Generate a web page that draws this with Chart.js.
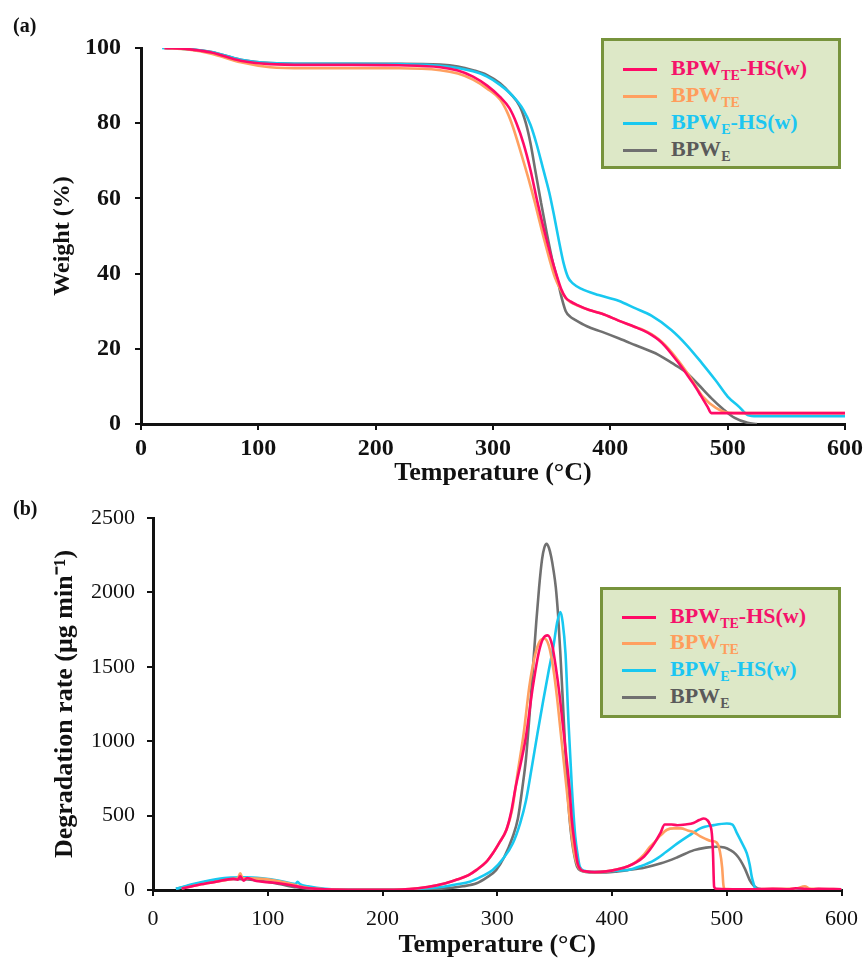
<!DOCTYPE html>
<html>
<head>
<meta charset="utf-8">
<script src="https://cdn.jsdelivr.net/npm/chart.js@4.4.1/dist/chart.umd.min.js"></script>
<style>
  html, body { margin: 0; padding: 0; background: #fff; }
  body { width: 868px; height: 963px; position: relative; overflow: hidden;
         font-family: "Liberation Serif", "Times New Roman", serif; }
  canvas { position: absolute; left: 0; }
  #tga { top: 0; }
  #dtg { top: 490px; }
  .tag { position: absolute; font-weight: bold; font-size: 20px; color: #111; line-height: 1; }
  .legend { position: absolute; background: #dde8c7; border: 3px solid #77933c; box-sizing: border-box; }
  .swatch { position: absolute; width: 34px; height: 3px; }
  .lab { position: absolute; font-weight: bold; font-size: 22px; line-height: 26px; white-space: nowrap; }
  .lab sub { font-size: 14px; vertical-align: -5px; line-height: 0; }
</style>
</head>
<body>
<canvas id="tga" width="868" height="490"></canvas>
<canvas id="dtg" width="868" height="473"></canvas>
<div class="tag" style="left:13px;top:15px;">(a)</div>
<div class="tag" style="left:13px;top:498px;">(b)</div>
<div class="legend" id="legA" style="left:601px;top:38px;width:240px;height:131px;"></div>
<div class="legend" id="legB" style="left:600px;top:587px;width:241px;height:131px;"></div>

<script>
// ---- Series names and colours ----
const seriesNames = [
  { base: 'BPW', sub: 'TE', tail: '-HS(w)' },
  { base: 'BPW', sub: 'TE', tail: '' },
  { base: 'BPW', sub: 'E',  tail: '-HS(w)' },
  { base: 'BPW', sub: 'E',  tail: '' }
];
const lineColors = ['#ff0a66', '#ffa060', '#18c8f0', '#707070'];
const textColors = ['#f5136a', '#ff9d5c', '#1cc6f2', '#5a5a5a'];

// ---- (a) Weight (%) vs temperature ----
const tgaTeHsT = [20, 40, 60, 85, 110, 140, 180, 220, 255, 270, 283, 295, 306, 314, 320, 326, 332, 338, 344, 350, 354, 358, 362, 366, 372, 382, 393, 407, 421, 428, 435, 441, 447, 453, 459, 465, 471, 477, 483, 486, 490, 530, 600];
const tgaTeHsW = [100, 99.7, 98.8, 96.6, 95.7, 95.5, 95.5, 95.4, 94.9, 94.0, 92.4, 90.0, 87.0, 84.0, 80.0, 74.6, 67.5, 58.8, 51.0, 44.0, 39.8, 36.0, 33.6, 32.6, 31.6, 30.3, 29.3, 27.5, 25.8, 24.9, 23.7, 22.4, 20.6, 18.3, 15.9, 13.3, 10.6, 7.6, 4.5, 2.9, 2.9, 2.9, 2.9];

const tgaTeT = [20, 40, 60, 85, 110, 140, 180, 220, 255, 270, 283, 295, 306, 312, 317, 323, 330, 336, 342, 348, 353, 358, 362, 366, 372, 382, 393, 407, 421, 428, 435, 441, 447, 453, 459, 465, 471, 479, 490, 501, 510, 600];
const tgaTeW = [100, 99.6, 98.5, 96.2, 94.9, 94.6, 94.6, 94.6, 94.1, 93.2, 91.6, 89.2, 86.3, 83.0, 79.0, 73.0, 65.5, 58.5, 51.0, 44.0, 38.8, 35.5, 33.5, 32.4, 31.5, 30.3, 29.3, 27.5, 25.8, 25.0, 23.9, 22.6, 20.9, 18.8, 16.4, 13.8, 11.0, 7.2, 4.3, 3.0, 2.9, 2.9];

const tgaEHsT = [18, 40, 60, 85, 110, 140, 180, 220, 255, 270, 283, 295, 306, 316, 326, 332, 337, 343, 348, 352, 356, 360, 364, 368, 375, 390, 407, 421, 435, 452, 465, 478, 490, 500, 510, 517, 525, 600];
const tgaEHsW = [100, 99.7, 98.9, 96.9, 96.0, 95.8, 95.8, 95.7, 95.3, 94.7, 93.8, 92.4, 90.2, 87.5, 83.5, 79.5, 74.6, 67.5, 61.5, 55.5, 49.0, 43.0, 39.0, 37.4, 36.0, 34.3, 32.8, 30.8, 28.8, 25.0, 21.0, 16.2, 11.5, 7.3, 4.5, 2.4, 2.1, 2.1];

const tgaET = [20, 40, 60, 85, 110, 140, 180, 220, 255, 270, 283, 295, 306, 315, 323, 328, 332, 336, 341, 346, 351, 355, 359, 362, 366, 370, 380, 393, 407, 421, 441, 452, 464, 475, 486, 496, 506, 517, 525];
const tgaEW = [100, 99.7, 98.9, 96.9, 96.0, 95.8, 95.8, 95.8, 95.6, 95.1, 94.1, 92.8, 90.6, 87.8, 84.4, 80.0, 74.6, 67.5, 58.8, 50.5, 43.0, 38.3, 33.0, 30.0, 28.5, 27.7, 26.0, 24.5, 22.8, 21.0, 18.4, 16.3, 13.9, 10.5, 6.9, 4.0, 1.6, 0.3, 0];

// ---- (b) Degradation rate (µg min-1) vs temperature ----
const dtgTeHsT = [25, 40, 55, 70, 74, 76, 79, 82, 90, 104, 118, 132, 150, 180, 210, 239, 255, 265, 275, 282, 290, 296, 302, 308, 312, 316, 321, 325, 331, 336, 340, 344, 348, 351, 354, 357, 360, 363, 365, 368, 370, 373, 377, 385, 395, 405, 414, 421, 428, 433, 437, 442, 446, 452, 457, 464, 471, 476, 480, 483, 485, 487, 488, 489, 491, 500, 520, 540, 555, 560, 575, 580, 600];
const dtgTeHsV = [10, 35, 55, 75, 70, 92, 62, 80, 60, 50, 35, 15, 5, 2, 2, 20, 45, 70, 100, 135, 185, 245, 320, 405, 520, 690, 870, 1030, 1365, 1590, 1690, 1711, 1640, 1500, 1330, 1120, 910, 680, 470, 280, 180, 135, 125, 120, 125, 140, 160, 185, 225, 270, 315, 380, 440, 440, 435, 440, 450, 470, 481, 470, 445, 380, 250, 22, 8, 5, 5, 8, 5, 12, 5, 8, 5];

const dtgTeT = [25, 40, 55, 70, 74, 76, 78, 85, 95, 105, 118, 132, 150, 180, 210, 239, 255, 265, 275, 282, 290, 296, 302, 308, 313, 318, 323, 328, 333, 337, 341, 345, 349, 352, 355, 358, 361, 364, 367, 370, 373, 377, 385, 395, 405, 414, 421, 428, 433, 437, 442, 448, 454, 460, 466, 472, 477, 481, 486, 491, 494, 496, 497, 498, 505, 520, 540, 560, 568, 572, 576, 600];
const dtgTeV = [10, 35, 55, 75, 80, 112, 80, 78, 75, 65, 45, 18, 5, 2, 2, 20, 45, 70, 100, 135, 185, 245, 320, 405, 540, 800, 1050, 1370, 1580, 1670, 1690, 1640, 1480, 1300, 1080, 860, 640, 420, 250, 165, 135, 125, 120, 125, 140, 160, 190, 240, 290, 320, 365, 405, 414, 414, 400, 385, 360, 345, 330, 320, 260, 150, 40, 8, 5, 5, 8, 10, 25, 10, 8, 5];

const dtgEHsT = [20, 35, 50, 65, 80, 95, 110, 120, 124, 126, 128, 135, 150, 180, 210, 240, 253, 265, 276, 286, 296, 305, 313.5, 320, 325, 330, 335, 340, 345, 349, 352, 355, 357, 359.5, 362, 365, 368, 370, 372, 376, 385, 395, 405, 414, 425, 437, 447, 457, 467, 477, 488.8, 500, 505, 509, 513, 517.5, 520, 521.8, 523.5, 525, 530, 560, 600];
const dtgEHsV = [8, 40, 65, 82, 85, 78, 62, 45, 40, 55, 40, 25, 8, 2, 2, 12, 22, 38, 56, 90, 134, 210, 313, 450, 600, 820, 1050, 1270, 1480, 1640, 1790, 1868, 1800, 1588, 1141, 693, 358, 240, 156, 130, 122, 125, 130, 134, 160, 201, 255, 313, 365, 414, 436, 447, 440, 380, 320, 246, 170, 89, 40, 10, 5, 5, 5];

const dtgET = [20, 35, 50, 65, 80, 95, 110, 125, 140, 160, 190, 220, 250, 270, 282, 291, 299, 306, 313.5, 318, 322, 325, 327.8, 330, 332, 334, 336.5, 339, 341, 343, 345, 347, 349, 351, 353, 355, 358, 361, 363, 365, 367.5, 369.6, 373, 377, 385, 395, 405, 414, 428, 442.8, 457, 471.5, 482, 491.6, 498, 503, 508, 511.8, 516, 520, 524, 527, 530];
const dtgEV = [8, 35, 60, 75, 72, 60, 40, 18, 5, 2, 2, 2, 8, 25, 45, 85, 134, 220, 358, 480, 693, 880, 1141, 1370, 1588, 1800, 2036, 2220, 2300, 2327, 2300, 2240, 2150, 2036, 1850, 1588, 1141, 693, 480, 336, 220, 156, 130, 122, 118, 118, 125, 134, 150, 179, 220, 268, 285, 291, 285, 268, 240, 201, 140, 67, 25, 10, 5];

// ---- Axis ticks ----
const tempTicks = [0, 100, 200, 300, 400, 500, 600];
const weightTicks = [0, 20, 40, 60, 80, 100];
const rateTicks = [0, 500, 1000, 1500, 2000, 2500];

Chart.defaults.font.family = "'Liberation Serif', 'Times New Roman', serif";
Chart.defaults.color = '#111';

function pairs(xs, ys) { return xs.map((x, i) => ({ x: x, y: ys[i] })); }

function buildChart(canvasId, seriesXY, cfg) {
  const datasets = seriesXY.map((s, i) => ({
    label: seriesNames[i].base + seriesNames[i].sub + seriesNames[i].tail,
    data: pairs(s[0], s[1]),
    borderColor: lineColors[i],
    backgroundColor: lineColors[i],
    borderWidth: 2.6,
    showLine: true,
    pointRadius: 0,
    cubicInterpolationMode: 'monotone',
    fill: false
  }));
  const axisGrid = { display: true, drawOnChartArea: false, drawTicks: true, tickLength: 6, color: '#111', lineWidth: 2 };
  const axisBorder = { display: true, color: '#111', width: 3 };
  return new Chart(document.getElementById(canvasId), {
    type: 'scatter',
    data: { datasets: datasets },
    options: {
      responsive: false,
      animation: false,
      events: [],
      layout: { padding: cfg.padding },
      plugins: { legend: { display: false }, tooltip: { enabled: false } },
      scales: {
        x: {
          type: 'linear', min: 0, max: 600,
          afterBuildTicks: (s) => { s.ticks = tempTicks.map(v => ({ value: v })); },
          afterFit: (s) => { s.height = cfg.xHeight; },
          grid: axisGrid, border: axisBorder,
          ticks: { font: cfg.tickFont, padding: cfg.xTickPad, color: '#111', maxRotation: 0, callback: v => String(v) },
          title: { display: true, text: 'Temperature (°C)', color: '#111',
                   font: { size: 26, weight: 'bold' }, padding: { top: 0, bottom: cfg.xTitlePad } }
        },
        y: {
          type: 'linear', min: cfg.yMin, max: cfg.yMax,
          afterBuildTicks: (s) => { s.ticks = cfg.yTicks.map(v => ({ value: v })); },
          afterFit: (s) => { s.width = cfg.yWidth; },
          grid: axisGrid, border: axisBorder,
          ticks: { font: cfg.tickFont, padding: cfg.yTickPad, color: '#111', callback: v => String(v) },
          title: { display: true, text: cfg.yTitle, color: '#111',
                   font: { size: cfg.yTitleSize, weight: 'bold' }, padding: { top: cfg.yTitlePad, bottom: 0 } }
        }
      }
    }
  });
}

buildChart('tga', [[tgaTeHsT, tgaTeHsW], [tgaTeT, tgaTeW], [tgaEHsT, tgaEHsW], [tgaET, tgaEW]], {
  padding: { top: 48, right: 23, bottom: 0, left: 0 },
  xHeight: 66, yWidth: 141,
  yMin: 0, yMax: 100, yTicks: weightTicks,
  tickFont: { size: 24, weight: 'bold' },
  xTickPad: 4, yTickPad: 14, xTitlePad: 1,
  yTitle: 'Weight (%)', yTitleSize: 24, yTitlePad: 48
});

buildChart('dtg', [[dtgTeHsT, dtgTeHsV], [dtgTeT, dtgTeV], [dtgEHsT, dtgEHsV], [dtgET, dtgEV]], {
  padding: { top: 28, right: 19, bottom: 0, left: 0 },
  xHeight: 73, yWidth: 153,
  yMin: 0, yMax: 2500, yTicks: rateTicks,
  tickFont: { size: 22, weight: 'normal' },
  xTickPad: 10, yTickPad: 12, xTitlePad: 2,
  yTitle: 'Degradation rate (μg min⁻¹)', yTitleSize: 26, yTitlePad: 50
});

// ---- Legends with subscripted sample names ----
function buildLegend(id, rowCenters) {
  const box = document.getElementById(id);
  seriesNames.forEach((n, i) => {
    const sw = document.createElement('div');
    sw.className = 'swatch';
    sw.style.left = '19px';
    sw.style.top = (rowCenters[i] - 1.5) + 'px';
    sw.style.background = lineColors[i];
    box.appendChild(sw);
    const lab = document.createElement('div');
    lab.className = 'lab';
    lab.style.left = '67px';
    lab.style.top = (rowCenters[i] - 14) + 'px';
    lab.style.color = textColors[i];
    lab.innerHTML = n.base + '<sub>' + n.sub + '</sub>' + n.tail;
    box.appendChild(lab);
  });
}
buildLegend('legA', [28, 55, 82, 109]);
buildLegend('legB', [27, 53, 80, 107]);
</script>
</body>
</html>
